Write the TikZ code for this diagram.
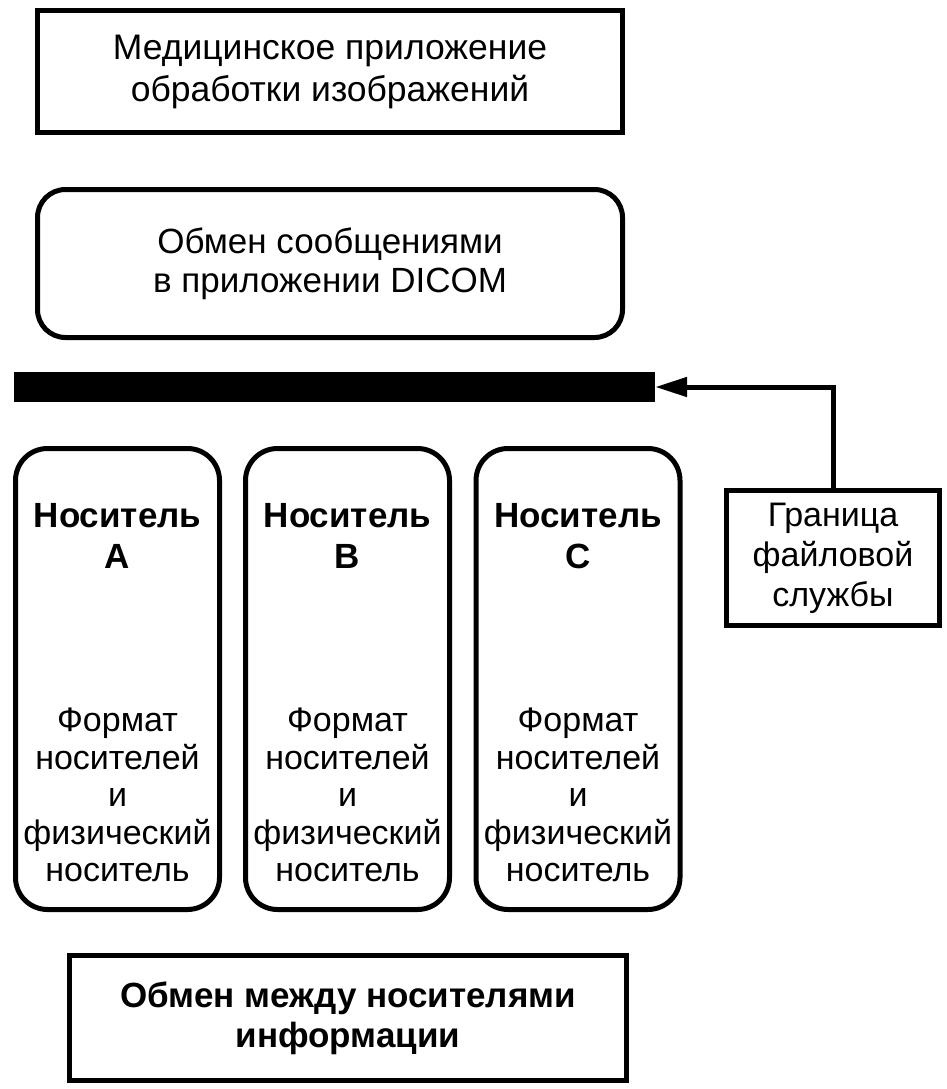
\documentclass[tikz,border=0pt]{standalone}
\usepackage{fontspec}
\setmainfont{Liberation Sans}
\usetikzlibrary{arrows.meta,positioning}

\begin{document}
\begin{tikzpicture}[
  x=1pt, y=-1pt,
  box/.style={draw, line width=5pt, align=center, inner sep=0pt},
  rbox/.style={box, rounded corners=28pt},
  medium/.style={box, rounded corners=32pt, minimum width=204pt, minimum height=461pt},
  txt/.style={align=center, inner sep=0pt, font=\fontsize{34}{40}\selectfont},
  boldtxt/.style={txt, font=\fontsize{35}{41}\selectfont\bfseries},
  smalltxt/.style={txt, font=\fontsize{34}{37.5}\selectfont},
  conn/.style={-{Triangle[length=32pt,width=19pt]}, line width=5pt}
]
  \useasboundingbox (0,0) rectangle (946,1089);

  % Application layers
  \node[box, minimum width=585pt, minimum height=122pt,
        font=\fontsize{35.5}{42}\selectfont] (app) at (330,71.5)
    {Медицинское приложение\\обработки изображений};
  \node[rbox, minimum width=585pt, minimum height=148pt,
        font=\fontsize{35}{39}\selectfont] (msg) at (330,263.5)
    {Обмен сообщениями\\в приложении DICOM};

  % File service boundary
  \node[fill=black, inner sep=0pt, minimum width=641pt, minimum height=30pt]
    (bar) at (334.5,387) {};
  \node[box, minimum width=213pt, minimum height=135pt, txt] (bnd) at (833,558)
    {Граница\\файловой\\службы};
  \draw[conn] (bnd.north) |- (bar.east);

  % Media
  \foreach \m/\x in {A/117.5,B/347.5,C/578} {
    \node[medium] (m\m) at (\x,679) {};
    \node[boldtxt] (t\m) at (\x,536) {Носитель\\\m};
    \node[smalltxt] (f\m) at (\x,795) {Формат\\носителей\\и\\физический\\носитель};
  }

  % Interchange
  \node[box, minimum width=557pt, minimum height=125pt,
        font=\fontsize{35}{40}\selectfont\bfseries] (xchg) at (348,1018)
    {Обмен между носителями\\информации};
\end{tikzpicture}
\end{document}
